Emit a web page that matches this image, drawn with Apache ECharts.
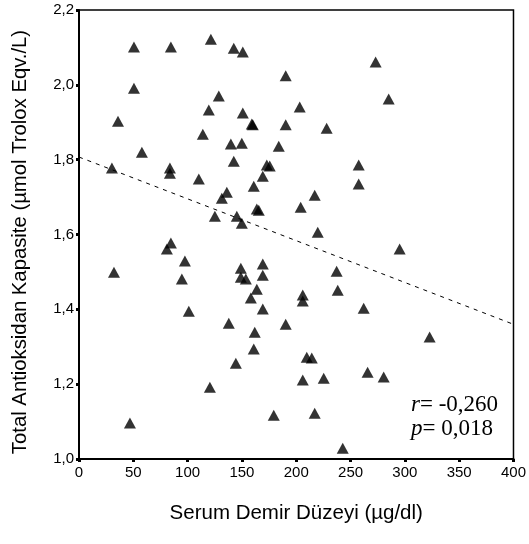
<!DOCTYPE html>
<html><head><meta charset="utf-8">
<script src="https://cdn.jsdelivr.net/npm/echarts@6/dist/echarts.min.js"></script>
<style>html,body{margin:0;padding:0;background:#fff}#c{width:529px;height:544px}</style>
</head><body><div id="c"></div>
<script>
const ironValues = [50.6,84.6,121.4,142.5,150.8,50.6,128.7,35.9,119.5,150.8,159.1,160.0,57.9,114.0,139.8,149.9,30.3,83.7,83.7,110.3,142.5,172.9,175.6,169.2,160.9,136.1,131.5,163.7,165.5,125.1,145.3,149.9,273.1,190.3,285.1,203.2,190.3,228.0,183.9,257.5,257.5,217.0,204.1,219.8,32.2,46.9,80.9,84.6,97.5,94.7,101.1,120.5,137.9,144.4,149.0,149.0,153.6,158.2,163.7,161.8,160.9,169.2,169.2,169.2,295.2,237.2,238.2,206.0,206.0,262.1,190.3,322.8,209.7,214.3,206.0,225.3,265.7,280.5,179.3,217.0,242.8];
const tacValues = [2.101,2.101,2.122,2.098,2.088,1.991,1.970,1.903,1.933,1.925,1.895,1.893,1.820,1.868,1.842,1.844,1.778,1.778,1.764,1.748,1.796,1.786,1.783,1.756,1.729,1.713,1.697,1.668,1.665,1.649,1.649,1.630,2.061,2.024,1.962,1.941,1.893,1.884,1.836,1.786,1.735,1.705,1.673,1.606,1.499,1.096,1.561,1.577,1.529,1.481,1.395,1.192,1.363,1.256,1.510,1.486,1.481,1.430,1.454,1.339,1.294,1.521,1.491,1.401,1.561,1.502,1.451,1.438,1.422,1.403,1.360,1.326,1.272,1.270,1.211,1.216,1.232,1.219,1.117,1.122,1.029];
const fitX = [0, 400];
const fitY = [1.807, 1.360];
const xTicks = [0,50,100,150,200,250,300,350,400];
const yTicks = [1.0,1.2,1.4,1.6,1.8,2.0,2.2];
const xTitle = 'Serum Demir Düzeyi (µg/dl)';
const yTitle = 'Total Antioksidan Kapasite (µmol Trolox Eqv./L)';
const statR = '-0,260';
const statP = '0,018';

const points = ironValues.map((x,i)=>[x,tacValues[i]]);
const fitLine = fitX.map((x,i)=>[x,fitY[i]]);
const chart = echarts.init(document.getElementById('c'));
const lab = {color:'#000', fontFamily:'Liberation Sans, Arial, sans-serif', fontSize:15};
chart.setOption({
  animation:false,
  grid:{left:79,right:15,top:10,bottom:85,show:true,borderColor:'#000',borderWidth:1.5},
  xAxis:{type:'value',min:xTicks[0],max:xTicks[xTicks.length-1],interval:50,
    name:xTitle,nameLocation:'middle',nameGap:44,
    nameTextStyle:{color:'#000',fontFamily:'Liberation Sans, Arial, sans-serif',fontSize:20.5},
    axisLine:{lineStyle:{color:'#000',width:2}},
    axisTick:{length:3,lineStyle:{color:'#000',width:3}},
    axisLabel:Object.assign({margin:6},lab),
    splitLine:{show:false}},
  yAxis:{type:'value',min:yTicks[0],max:yTicks[yTicks.length-1],interval:0.2,
    axisLine:{lineStyle:{color:'#000',width:2}},
    axisTick:{length:3,lineStyle:{color:'#000',width:3}},
    axisLabel:Object.assign({margin:5,formatter:v=>v.toFixed(1).replace('.',',')},lab),
    splitLine:{show:false}},
  graphic:[
    {type:'text',x:20,y:242,rotation:Math.PI/2,style:{
      text:yTitle,fill:'#000',font:'20.3px "Liberation Sans", Arial, sans-serif',
      align:'center',verticalAlign:'middle'}},
    {type:'text',left:411,top:393,style:{
    text:'{i|r}= '+statR+'\n{i|p}= '+statP,
    rich:{i:{fontStyle:'italic',fontFamily:'Liberation Serif, Times New Roman, serif',fontSize:23,fill:'#000',lineHeight:24}},
    font:'23px "Liberation Serif", "Times New Roman", serif',fill:'#000',lineHeight:24}}],
  series:[
    {type:'line',data:fitLine,symbol:'none',silent:true,
     lineStyle:{color:'#000',width:1,type:[4,5]}},
    {type:'scatter',data:points,symbol:'triangle',symbolSize:[12,11],
     itemStyle:{color:'#000'}}
  ]
});
</script></body></html>
